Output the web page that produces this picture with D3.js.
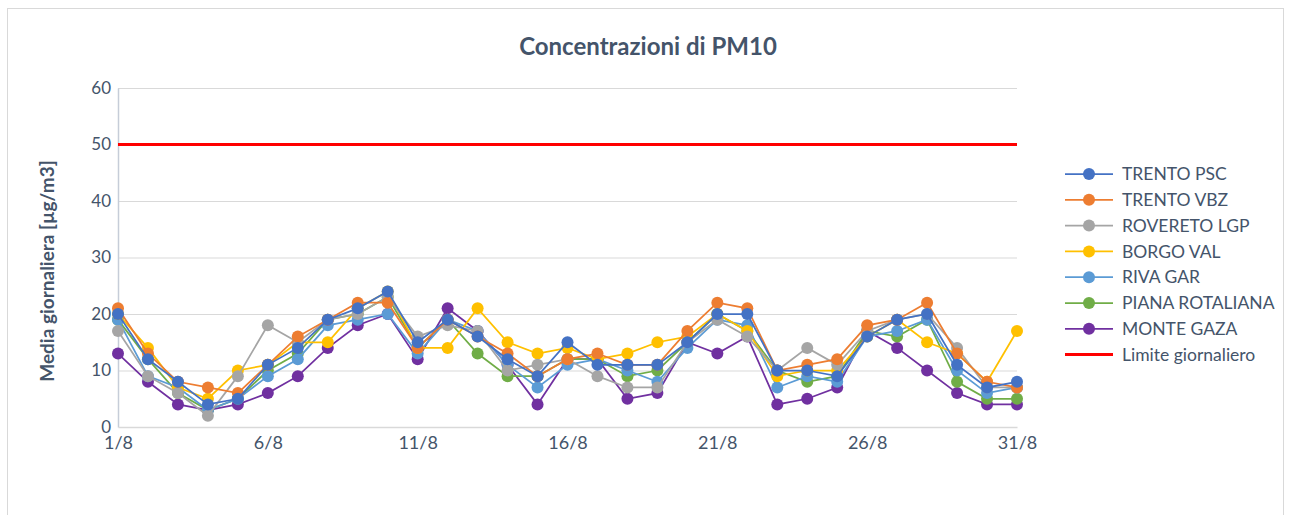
<!DOCTYPE html>
<html>
<head>
<meta charset="utf-8">
<script src="https://cdn.jsdelivr.net/npm/d3@7"></script>
<style>
  body { margin: 0; background: #ffffff; }
  text { font-family: Lato, "Open Sans", sans-serif; }
</style>
</head>
<body>
<div id="pm10-chart"></div>
<script>
// Days of August
const days = d3.range(1, 32);
const tickDays = [1, 6, 11, 16, 21, 26, 31];
const yTicks = [0, 10, 20, 30, 40, 50, 60];

const stationNames = [
  "TRENTO PSC",
  "TRENTO VBZ",
  "ROVERETO LGP",
  "BORGO VAL",
  "RIVA GAR",
  "PIANA ROTALIANA",
  "MONTE GAZA",
];
const stationColors = [
  "#4472C4",
  "#ED7D31",
  "#A5A5A5",
  "#FFC000",
  "#5B9BD5",
  "#70AD47",
  "#7030A0",
];

// Daily averages
const trentoPsc = [20, 12, 8, 4, 5, 11, 14, 19, 21, 24, 15, 19, 16, 12, 9, 15, 11, 11, 11, 15, 20, 20, 10, 10, 9, 16, 19, 20, 11, 7, 8];
const trentoVbz = [21, 13, 8, 7, 6, 11, 16, 19, 22, 22, 14, 19, 16, 13, 9, 12, 13, 11, 11, 17, 22, 21, 10, 11, 12, 18, 19, 22, 13, 8, 7];
const roveretoLgp = [17, 9, 6, 2, 9, 18, 15, 19, 20, 23, 16, 18, 17, 10, 11, 12, 9, 7, 7, 15, 19, 16, 10, 14, 11, 17, 19, 20, 14, 7, 7];
const borgoVal = [20, 14, 7, 5, 10, 11, 15, 15, 21, 24, 14, 14, 21, 15, 13, 14, 12, 13, 15, 16, 20, 17, 9, 10, 10, 16, 19, 15, 13, 8, 17];
const rivaGar = [19, 9, 7, 3, 5, 9, 12, 18, 19, 20, 13, 19, 17, 11, 7, 11, 12, 10, 8, 14, 19, 18, 7, 9, 8, 16, 17, 19, 10, 6, 7];
const pianaRotaliana = [19, 12, 6, 3, 5, 10, 13, 19, 20, 23, 14, 19, 13, 9, 9, 12, 12, 9, 10, 15, 20, 17, 10, 8, 9, 17, 16, 19, 8, 5, 5];
const monteGaza = [13, 8, 4, 3, 4, 6, 9, 14, 18, 20, 12, 21, 17, 11, 4, 12, 12, 5, 6, 15, 13, 16, 4, 5, 7, 17, 14, 10, 6, 4, 4];

const limitValue = 50;
const limitName = "Limite giornaliero";

const stationValues = [trentoPsc, trentoVbz, roveretoLgp, borgoVal, rivaGar, pianaRotaliana, monteGaza];

var series = stationNames.map(function (name, i) {
  return {
    name: name,
    color: stationColors[i],
    values: stationValues[i].map(function (v, j) {
      return { day: days[j], value: v };
    }),
  };
});

var width = 1290;
var height = 515;
var textColor = "#44546A";

var svg = d3
  .select("#pm10-chart")
  .append("svg")
  .attr("width", width)
  .attr("height", height);

// Outer chart border
svg
  .append("rect")
  .attr("x", 7.5)
  .attr("y", 8.5)
  .attr("width", 1276)
  .attr("height", 530)
  .attr("fill", "#ffffff")
  .attr("stroke", "#d9d9d9");

// Plot area
var x = d3.scaleLinear().domain([1, 31]).range([118, 1017]);
var y = d3.scaleLinear().domain([0, 60]).range([427, 88]);

// Horizontal gridlines
svg
  .append("g")
  .selectAll("line")
  .data(yTicks.filter(function (d) { return d > 0; }))
  .enter()
  .append("line")
  .attr("x1", x(1))
  .attr("x2", x(31))
  .attr("y1", function (d) { return y(d) + 0.5; })
  .attr("y2", function (d) { return y(d) + 0.5; })
  .attr("stroke", "#d9d9d9")
  .attr("stroke-width", 1);

// Y axis
var yAxis = svg
  .append("g")
  .attr("transform", "translate(" + x(1) + ",0)")
  .call(d3.axisLeft(y).tickValues(yTicks).tickSize(0).tickPadding(7));
yAxis.select(".domain").attr("stroke", "#c6cdd8").attr("stroke-width", 1.5);
yAxis
  .selectAll("text")
  .attr("fill", textColor)
  .attr("dy", "0.3em")
  .style("font-size", "17px");

// X axis
var xAxis = svg
  .append("g")
  .attr("transform", "translate(0," + y(0) + ")")
  .call(
    d3
      .axisBottom(x)
      .tickValues(tickDays)
      .tickSize(0)
      .tickPadding(9)
      .tickFormat(function (d) { return d + "/8"; })
  );
xAxis.select(".domain").attr("stroke", "#d9d9d9").attr("stroke-width", 1.5);
xAxis
  .selectAll("text")
  .attr("fill", textColor)
  .style("font-size", "18px");

// Daily limit line
svg
  .append("line")
  .attr("x1", x(1))
  .attr("x2", x(31))
  .attr("y1", y(limitValue))
  .attr("y2", y(limitValue))
  .attr("stroke", "#ff0000")
  .attr("stroke-width", 3);

// Lines and markers, first series drawn last so it sits on top
var line = d3
  .line()
  .x(function (d) { return x(d.day); })
  .y(function (d) { return y(d.value); });

var seriesGroups = svg
  .selectAll("g.series")
  .data(series.slice().reverse())
  .enter()
  .append("g")
  .attr("class", "series");

seriesGroups
  .append("path")
  .attr("d", function (d) { return line(d.values); })
  .attr("fill", "none")
  .attr("stroke", function (d) { return d.color; })
  .attr("stroke-width", 1.75);

seriesGroups
  .selectAll("circle")
  .data(function (d) {
    return d.values.map(function (v) { return { day: v.day, value: v.value, color: d.color }; });
  })
  .enter()
  .append("circle")
  .attr("cx", function (d) { return x(d.day); })
  .attr("cy", function (d) { return y(d.value); })
  .attr("r", 6)
  .attr("fill", function (d) { return d.color; });

// Title
svg
  .append("text")
  .attr("x", 648)
  .attr("y", 55)
  .attr("text-anchor", "middle")
  .attr("fill", textColor)
  .style("font-size", "24px")
  .style("font-weight", "bold")
  .text("Concentrazioni di PM10");

// Y axis title
svg
  .append("text")
  .attr("transform", "translate(54,271) rotate(-90)")
  .attr("text-anchor", "middle")
  .attr("fill", textColor)
  .style("font-size", "19px")
  .style("font-weight", "bold")
  .text("Media giornaliera [µg/m3]");

// Legend
var legendItems = series.concat([{ name: limitName, color: "#ff0000", limit: true }]);

var legend = svg
  .selectAll("g.legend")
  .data(legendItems)
  .enter()
  .append("g")
  .attr("class", "legend")
  .attr("transform", function (d, i) {
    return "translate(1065," + (174 + i * 25.8) + ")";
  });

legend
  .append("line")
  .attr("x1", 0)
  .attr("x2", 48)
  .attr("stroke", function (d) { return d.color; })
  .attr("stroke-width", function (d) { return d.limit ? 3 : 1.75; });

legend
  .filter(function (d) { return !d.limit; })
  .append("circle")
  .attr("cx", 24)
  .attr("r", 6)
  .attr("fill", function (d) { return d.color; });

legend
  .append("text")
  .attr("x", 57)
  .attr("dy", "0.35em")
  .attr("fill", textColor)
  .style("font-size", "17.5px")
  .text(function (d) { return d.name; });
</script>
</body>
</html>
